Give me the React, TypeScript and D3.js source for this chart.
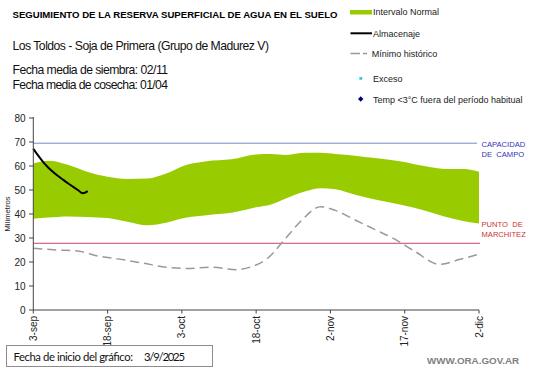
import * as d3 from 'd3';

// dias desde el 3-sep-2025
const bandDays = [0, 3, 7, 11, 15, 19, 23, 27, 31, 35, 40, 45, 48, 51, 55, 58, 61, 65, 69, 74, 79, 83, 87, 90];
const bandUpper = [61, 62.2, 60.5, 57.5, 55.5, 54.6, 54.8, 57, 60.5, 62, 62.8, 64.8, 65, 64.6, 65.5, 65.5, 65, 64.3, 63.3, 62, 60, 58.8, 58.8, 57.6];
const bandLower = [38, 38.5, 39, 38.8, 38.3, 36.8, 35.3, 36.5, 38.5, 39.5, 40.5, 42.8, 44, 46.5, 49.5, 50.7, 50.3, 48, 46, 44, 41.5, 39, 37, 36];

const storageDays = [0, 1, 2, 3, 4, 5, 6, 7, 8, 9, 10, 11];
const storageValues = [67.2, 64.3, 61.6, 59.4, 57.5, 55.8, 54.3, 52.8, 51.4, 50, 48.6, 49.5];

const minDays = [0, 5, 9, 13, 17, 22, 27, 31, 36, 41, 44, 47, 51, 54, 58, 61, 65, 69, 73, 77, 82, 86, 90];
const minValues = [25.7, 25, 24.6, 22.5, 21.3, 19.6, 17.8, 17.3, 17.8, 16.8, 18, 21, 30, 37, 43, 41.5, 37.5, 33.5, 29.5, 24.5, 19, 21, 23.3];

const fieldCapacity = 69.5;
const wiltingPoint = 27.8;

const tickDays = [0, 15, 30, 45, 60, 75, 90];
const yTicks = [0, 10, 20, 30, 40, 50, 60, 70, 80];
const monthNames = ['ene', 'feb', 'mar', 'abr', 'may', 'jun', 'jul', 'ago', 'sep', 'oct', 'nov', 'dic'];

const startDate = new Date(2025, 8, 3);
const toDate = (d: number) => d3.timeDay.offset(startDate, d);

const FONT = '"Liberation Sans", Arial, sans-serif';

export default function App() {
  const x = d3.scaleTime().domain([toDate(0), toDate(90)]).range([33.3, 479]);
  const y = d3.scaleLinear().domain([0, 80]).range([310, 118]);

  const bandPts = bandDays.map((d, i) => ({ d, hi: bandUpper[i], lo: bandLower[i] }));
  const area = d3.area<{ d: number; hi: number; lo: number }>()
    .x((p) => x(toDate(p.d)))
    .y0((p) => y(p.lo))
    .y1((p) => y(p.hi))
    .curve(d3.curveMonotoneX);

  const line = d3.line<[number, number]>()
    .x((p) => x(toDate(p[0])))
    .y((p) => y(p[1]))
    .curve(d3.curveMonotoneX);

  const storagePath = line(storageDays.map((d, i) => [d, storageValues[i]] as [number, number])) ?? '';
  const minPath = line(minDays.map((d, i) => [d, minValues[i]] as [number, number])) ?? '';

  const fmt = (dt: Date) => `${dt.getDate()}-${monthNames[dt.getMonth()]}`;

  return (
    <div style={{ position: 'absolute', left: 0, top: 0 }}>
      <svg width={541} height={368} style={{ display: 'block', background: '#fff' }} fontFamily={FONT}>
        {/* encabezado */}
        <text x={12.5} y={17.5} fontSize={9.6} fontWeight="bold" fill="#000">
          SEGUIMIENTO DE LA RESERVA SUPERFICIAL DE AGUA EN EL SUELO
        </text>
        <text x={12.5} y={49.5} fontSize={12.2} textLength={256.5} fill="#111">
          Los Toldos - Soja de Primera (Grupo de Madurez V)
        </text>
        <text x={12.5} y={74} fontSize={12.2} textLength={155.5} fill="#111">Fecha media de siembra: 02/11</text>
        <text x={12.5} y={88.5} fontSize={12.2} textLength={155.5} fill="#111">Fecha media de cosecha: 01/04</text>

        {/* leyenda */}
        <g fontSize={9} fill="#222">
          <rect x={350} y={10} width={22} height={4.5} fill="#99CC00" />
          <text x={373} y={15}>Intervalo Normal</text>
          <line x1={350.5} x2={372} y1={33.3} y2={33.3} stroke="#000" strokeWidth={2} />
          <text x={373} y={36.5}>Almacenaje</text>
          <line x1={350.5} x2={367} y1={53.5} y2={53.5} stroke="#999" strokeWidth={1.3} strokeDasharray="9.5,3,4,50" />
          <text x={371.7} y={56.5}>Mínimo histórico</text>
          <rect x={359.4} y={77} width={2.8} height={2.8} fill="#33CCCC" />
          <text x={373} y={81.5}>Exceso</text>
          <path d="M360.7,96.3 L363.4,99 L360.7,101.7 L358,99 Z" fill="#000080" />
          <text x={373} y={102.5}>Temp &lt;3°C fuera del período habitual</text>
        </g>

        {/* banda normal */}
        <path d={area(bandPts) ?? ''} fill="#99CC00" />

        {/* capacidad de campo y punto de marchitez */}
        <line x1={33.3} x2={477} y1={y(fieldCapacity)} y2={y(fieldCapacity)} stroke="#7A88C8" strokeWidth={1} />
        <line x1={33.3} x2={480} y1={y(wiltingPoint)} y2={y(wiltingPoint)} stroke="#CC4466" strokeWidth={1} />
        <g fontSize={7.6} fill="#3333BB">
          <text x={481.5} y={147}>CAPACIDAD</text>
          <text x={481.5} y={156.5}>DE&#160;&#160;CAMPO</text>
        </g>
        <g fontSize={7.6} fill="#CC3333">
          <text x={481.5} y={227}>PUNTO&#160;&#160;DE</text>
          <text x={481.5} y={236.5}>MARCHITEZ</text>
        </g>

        {/* minimo historico */}
        <path d={minPath} fill="none" stroke="#999" strokeWidth={1.5} strokeDasharray="9,5" />

        {/* almacenaje */}
        <path d={storagePath} fill="none" stroke="#000" strokeWidth={2} />

        {/* ejes */}
        <line x1={33.3} x2={33.3} y1={117} y2={310} stroke="#444" />
        <line x1={33.3} x2={479} y1={310} y2={310} stroke="#444" />
        {yTicks.map((t) => (
          <g key={t}>
            <line x1={29} x2={33.3} y1={y(t)} y2={y(t)} stroke="#444" />
            <text x={25.5} y={y(t)} dy="0.35em" textAnchor="end" fontSize={10} fill="#222">{t}</text>
          </g>
        ))}
        {tickDays.map((d) => {
          const px = x(toDate(d));
          return (
            <g key={d}>
              <line x1={px} x2={px} y1={310} y2={313.5} stroke="#444" />
              <text transform={`translate(${px},316) rotate(-90)`} dy="0.35em" textAnchor="end" fontSize={10} fill="#222">
                {fmt(toDate(d))}
              </text>
            </g>
          );
        })}
        <text transform="translate(7.5,214) rotate(-90)" textAnchor="middle" dy="0.35em" fontSize={7.6} fill="#222">
          Milímetros
        </text>

        {/* pie */}
        <rect x={6.5} y={345.5} width={206} height={21} fill="#fff" stroke="#8c8c8c" strokeWidth={1} />
        <text x={13.5} y={361} fontSize={11.3} textLength={119.5} fontFamily="Lato, sans-serif" fill="#111">
          Fecha de inicio del gráfico:
        </text>
        <text x={144} y={361} fontSize={11.3} textLength={41} fontFamily="Lato, sans-serif" fill="#111">3/9/2025</text>
        <text x={427} y={363.5} fontSize={9.8} fontWeight="bold" fill="#7f7f7f">WWW.ORA.GOV.AR</text>
      </svg>
    </div>
  );
}
